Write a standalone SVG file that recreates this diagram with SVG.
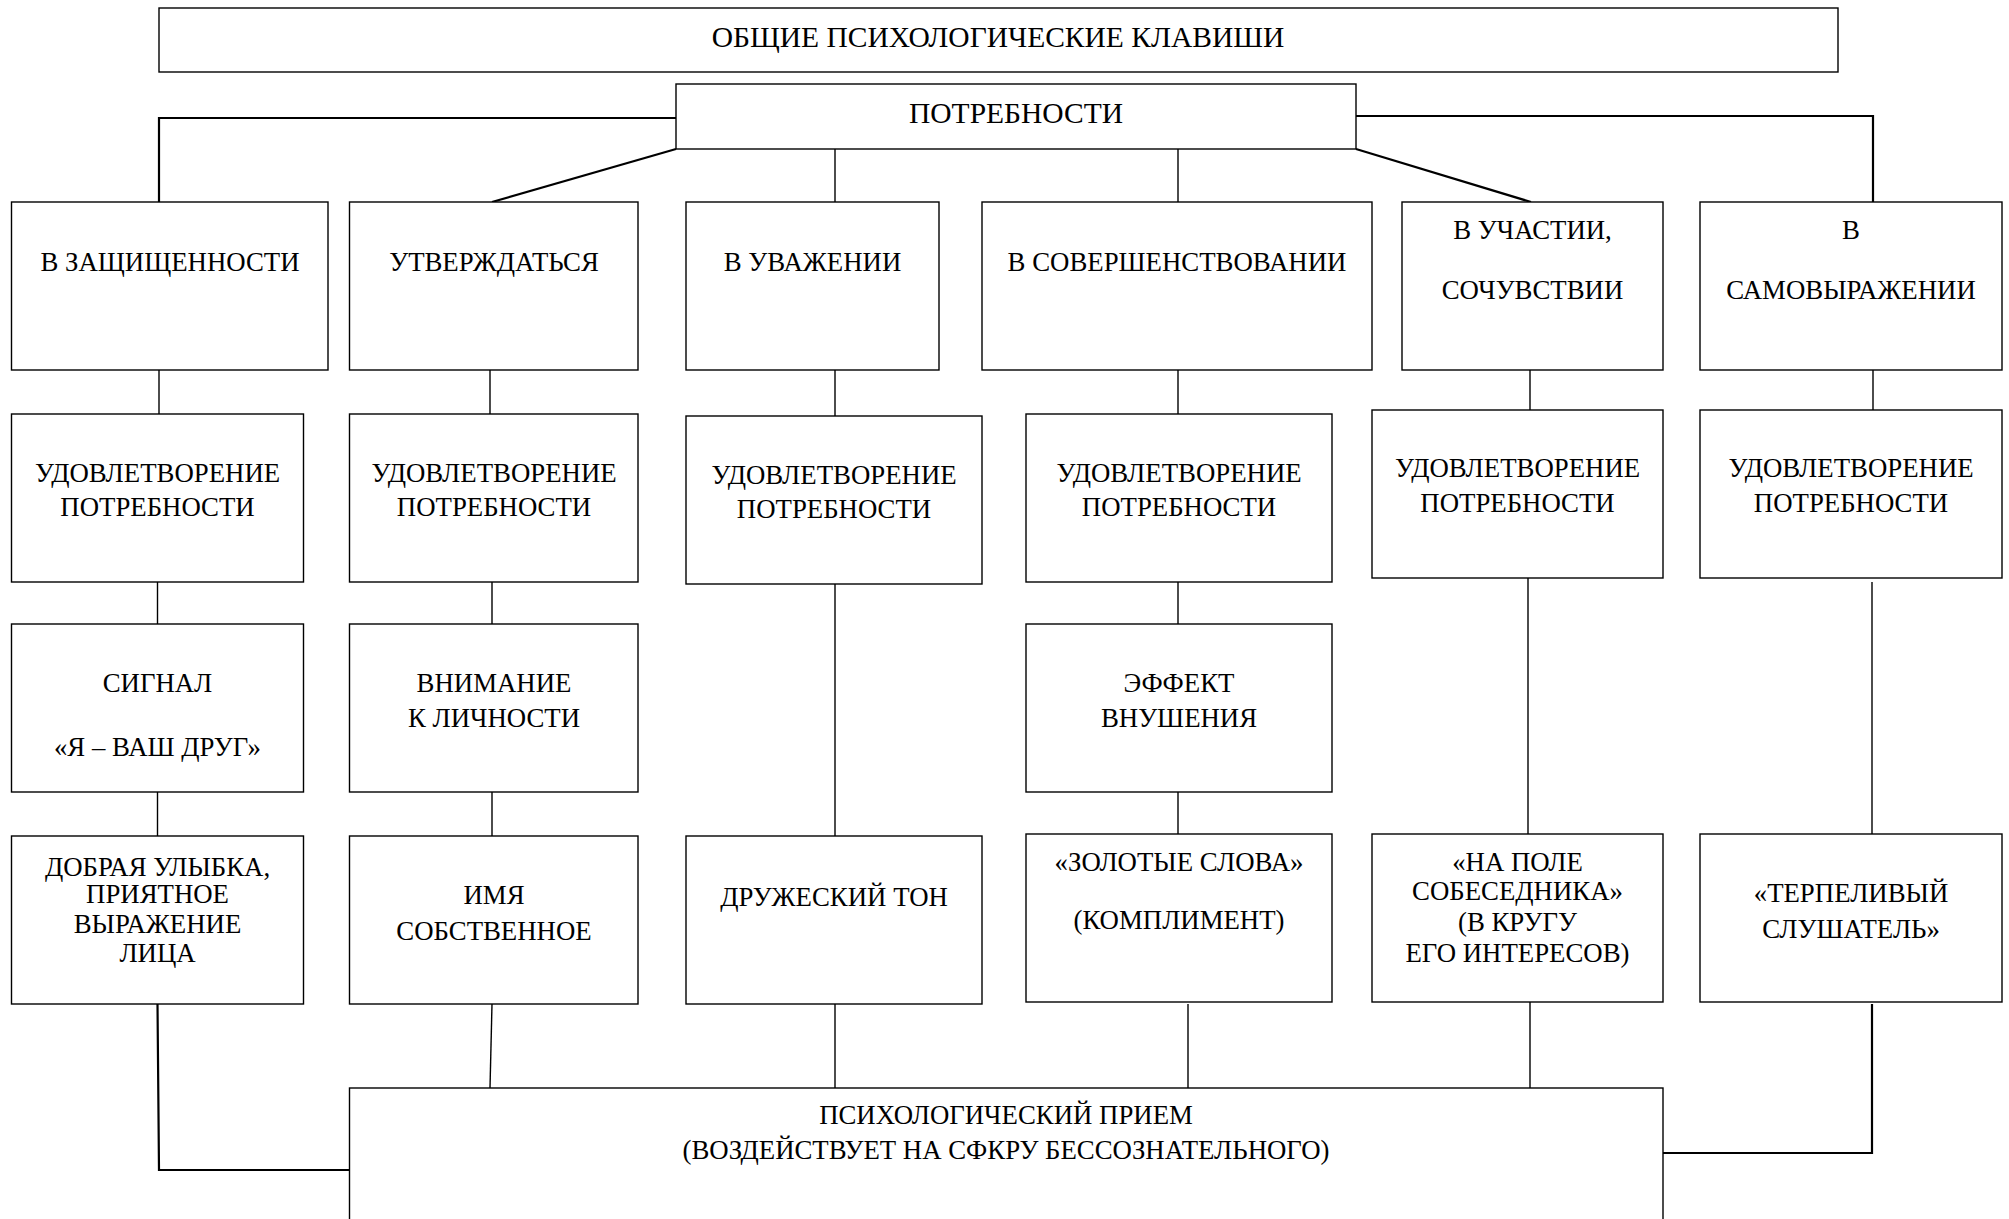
<svg xmlns="http://www.w3.org/2000/svg" width="2009" height="1219" viewBox="0 0 2009 1219">
<style>
  .box { fill: #ffffff; stroke: #000000; stroke-width: 1.4; }
  .t { font-family: "Liberation Serif", "Times New Roman", serif; font-size: 26.8px; fill: #000000; text-anchor: middle; }
  .tl { font-size: 29.5px; }
  .c { fill: none; stroke: #000000; stroke-width: 1.4; }
  .cb { fill: none; stroke: #000000; stroke-width: 2.2; }
</style>
<rect x="0" y="0" width="2009" height="1219" fill="#ffffff"/>

<g id="connectors">
  <polyline class="cb" points="676,118 159,118 159,202"/>
  <line class="cb" x1="676" y1="149" x2="492" y2="202"/>
  <line class="c" x1="835" y1="149" x2="835" y2="202"/>
  <line class="c" x1="1178" y1="149" x2="1178" y2="202"/>
  <line class="cb" x1="1356" y1="149" x2="1531" y2="202"/>
  <polyline class="cb" points="1356,116 1873,116 1873,202"/>

  <line class="c" x1="159" y1="370" x2="159" y2="414"/>
  <line class="c" x1="490" y1="370" x2="490" y2="414"/>
  <line class="c" x1="835" y1="370" x2="835" y2="416"/>
  <line class="c" x1="1178" y1="370" x2="1178" y2="414"/>
  <line class="c" x1="1530" y1="370" x2="1530" y2="410"/>
  <line class="c" x1="1873" y1="370" x2="1873" y2="410"/>

  <line class="c" x1="157.5" y1="582" x2="157.5" y2="624"/>
  <line class="c" x1="492" y1="582" x2="492" y2="624"/>
  <line class="c" x1="1178" y1="582" x2="1178" y2="624"/>
  <line class="c" x1="835" y1="584" x2="835" y2="836"/>
  <line class="c" x1="1528" y1="578" x2="1528" y2="834"/>
  <line class="c" x1="1872" y1="582" x2="1872" y2="834"/>

  <line class="c" x1="157.5" y1="792" x2="157.5" y2="836"/>
  <line class="c" x1="492" y1="792" x2="492" y2="836"/>
  <line class="c" x1="1178" y1="792" x2="1178" y2="834"/>

  <polyline class="cb" points="157.5,1004 159,1170 349.5,1170"/>
  <line class="c" x1="492" y1="1004" x2="490" y2="1088"/>
  <line class="c" x1="835" y1="1004" x2="835" y2="1088"/>
  <line class="c" x1="1188" y1="1004" x2="1188" y2="1088"/>
  <line class="c" x1="1530" y1="1002" x2="1530" y2="1088"/>
  <polyline class="cb" points="1872,1004 1872,1153 1663,1153"/>
</g>

<g id="title">
  <rect class="box" x="159" y="8" width="1679" height="64"/>
  <text class="t tl" x="998" y="47">ОБЩИЕ ПСИХОЛОГИЧЕСКИЕ КЛАВИШИ</text>
</g>
<g id="needs">
  <rect class="box" x="676" y="84" width="680" height="65"/>
  <text class="t tl" x="1016" y="123">ПОТРЕБНОСТИ</text>
</g>

<g id="need1">
  <rect class="box" x="11.5" y="202" width="316.5" height="168"/>
  <text class="t" x="170" y="271">В ЗАЩИЩЕННОСТИ</text>
</g>
<g id="need2">
  <rect class="box" x="349.5" y="202" width="288.5" height="168"/>
  <text class="t" x="494" y="271">УТВЕРЖДАТЬСЯ</text>
</g>
<g id="need3">
  <rect class="box" x="686" y="202" width="253" height="168"/>
  <text class="t" x="812.5" y="271">В УВАЖЕНИИ</text>
</g>
<g id="need4">
  <rect class="box" x="982" y="202" width="390" height="168"/>
  <text class="t" x="1177" y="271">В СОВЕРШЕНСТВОВАНИИ</text>
</g>
<g id="need5">
  <rect class="box" x="1402" y="202" width="261" height="168"/>
  <text class="t" x="1532.5" y="239">В УЧАСТИИ,</text>
  <text class="t" x="1532.5" y="299">СОЧУВСТВИИ</text>
</g>
<g id="need6">
  <rect class="box" x="1700" y="202" width="302" height="168"/>
  <text class="t" x="1851" y="239">В</text>
  <text class="t" x="1851" y="299">САМОВЫРАЖЕНИИ</text>
</g>

<g id="sat1">
  <rect class="box" x="11.5" y="414" width="292" height="168"/>
  <text class="t" x="157.5" y="482">УДОВЛЕТВОРЕНИЕ</text>
  <text class="t" x="157.5" y="516">ПОТРЕБНОСТИ</text>
</g>
<g id="sat2">
  <rect class="box" x="349.5" y="414" width="288.5" height="168"/>
  <text class="t" x="494" y="482">УДОВЛЕТВОРЕНИЕ</text>
  <text class="t" x="494" y="516">ПОТРЕБНОСТИ</text>
</g>
<g id="sat3">
  <rect class="box" x="686" y="416" width="296" height="168"/>
  <text class="t" x="834" y="484">УДОВЛЕТВОРЕНИЕ</text>
  <text class="t" x="834" y="518">ПОТРЕБНОСТИ</text>
</g>
<g id="sat4">
  <rect class="box" x="1026" y="414" width="306" height="168"/>
  <text class="t" x="1179" y="482">УДОВЛЕТВОРЕНИЕ</text>
  <text class="t" x="1179" y="516">ПОТРЕБНОСТИ</text>
</g>
<g id="sat5">
  <rect class="box" x="1372" y="410" width="291" height="168"/>
  <text class="t" x="1517.5" y="477">УДОВЛЕТВОРЕНИЕ</text>
  <text class="t" x="1517.5" y="512">ПОТРЕБНОСТИ</text>
</g>
<g id="sat6">
  <rect class="box" x="1700" y="410" width="302" height="168"/>
  <text class="t" x="1851" y="477">УДОВЛЕТВОРЕНИЕ</text>
  <text class="t" x="1851" y="512">ПОТРЕБНОСТИ</text>
</g>

<g id="mid1">
  <rect class="box" x="11.5" y="624" width="292" height="168"/>
  <text class="t" x="157.5" y="692">СИГНАЛ</text>
  <text class="t" x="157.5" y="756">«Я – ВАШ ДРУГ»</text>
</g>
<g id="mid2">
  <rect class="box" x="349.5" y="624" width="288.5" height="168"/>
  <text class="t" x="494" y="692">ВНИМАНИЕ</text>
  <text class="t" x="494" y="727">К ЛИЧНОСТИ</text>
</g>
<g id="mid4">
  <rect class="box" x="1026" y="624" width="306" height="168"/>
  <text class="t" x="1179" y="692">ЭФФЕКТ</text>
  <text class="t" x="1179" y="727">ВНУШЕНИЯ</text>
</g>

<g id="tech1">
  <rect class="box" x="11.5" y="836" width="292" height="168"/>
  <text class="t" x="157.5" y="876">ДОБРАЯ УЛЫБКА,</text>
  <text class="t" x="157.5" y="903">ПРИЯТНОЕ</text>
  <text class="t" x="157.5" y="933">ВЫРАЖЕНИЕ</text>
  <text class="t" x="157.5" y="962">ЛИЦА</text>
</g>
<g id="tech2">
  <rect class="box" x="349.5" y="836" width="288.5" height="168"/>
  <text class="t" x="494" y="904">ИМЯ</text>
  <text class="t" x="494" y="940">СОБСТВЕННОЕ</text>
</g>
<g id="tech3">
  <rect class="box" x="686" y="836" width="296" height="168"/>
  <text class="t" x="834" y="906">ДРУЖЕСКИЙ ТОН</text>
</g>
<g id="tech4">
  <rect class="box" x="1026" y="834" width="306" height="168"/>
  <text class="t" x="1179" y="871">«ЗОЛОТЫЕ СЛОВА»</text>
  <text class="t" x="1179" y="929">(КОМПЛИМЕНТ)</text>
</g>
<g id="tech5">
  <rect class="box" x="1372" y="834" width="291" height="168"/>
  <text class="t" x="1517.5" y="871">«НА ПОЛЕ</text>
  <text class="t" x="1517.5" y="900">СОБЕСЕДНИКА»</text>
  <text class="t" x="1517.5" y="931">(В КРУГУ</text>
  <text class="t" x="1517.5" y="962">ЕГО ИНТЕРЕСОВ)</text>
</g>
<g id="tech6">
  <rect class="box" x="1700" y="834" width="302" height="168"/>
  <text class="t" x="1851" y="902">«ТЕРПЕЛИВЫЙ</text>
  <text class="t" x="1851" y="938">СЛУШАТЕЛЬ»</text>
</g>

<g id="result">
  <rect class="box" x="349.5" y="1088" width="1313.5" height="160"/>
  <text class="t" x="1006" y="1124">ПСИХОЛОГИЧЕСКИЙ ПРИЕМ</text>
  <text class="t" x="1006" y="1159">(ВОЗДЕЙСТВУЕТ НА СФКРУ БЕССОЗНАТЕЛЬНОГО)</text>
</g>
</svg>
